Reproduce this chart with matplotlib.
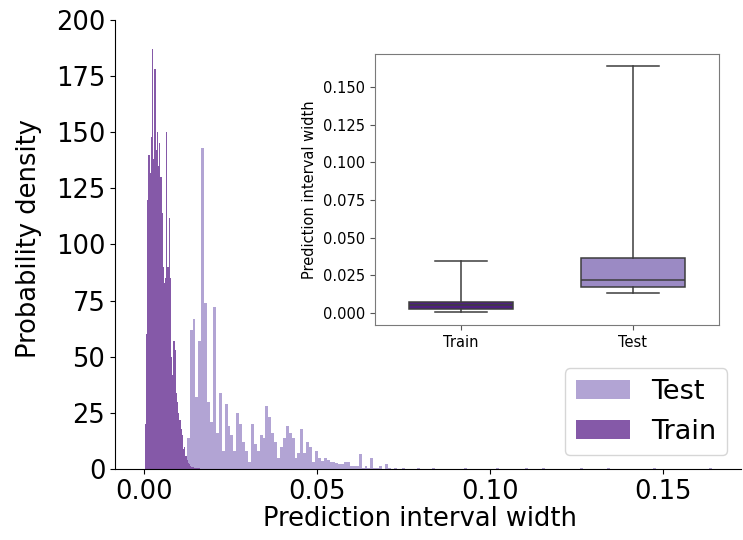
import numpy as np
import matplotlib
matplotlib.use("Agg")
import matplotlib.pyplot as plt

# Histogram densities (per bin) of prediction-interval widths
train_range = (0.0003, 0.0348)
train_density = [
    20, 60, 120, 140, 132, 148, 187, 138, 178, 142,
    150, 135, 145, 130, 114, 90, 83, 85, 150, 90,
    112, 85, 50, 42, 57, 53, 34, 30, 25, 22,
    18, 15, 9, 10, 6, 4, 2.5, 2, 1.5, 1,
    0.8, 0.6, 0.5, 0.4, 0.3, 0.3, 0.2, 0, 0.2, 0,
    0, 0.2, 0, 0, 0, 0, 0.2, 0, 0, 0,
    0, 0, 0, 0.2, 0, 0, 0, 0, 0, 0,
    0, 0, 0.2, 0, 0, 0, 0, 0, 0, 0,
    0, 0, 0, 0, 0, 0, 0, 0, 0, 0,
    0, 0, 0, 0, 0, 0, 0, 0, 0, 0.2,
]

test_range = (0.0124, 0.1640)
test_density = [
    14, 62, 67, 32, 57, 143, 74, 30, 21, 72,
    16, 34, 8, 29, 19, 15, 8, 25, 20, 12,
    8, 3, 20, 11, 8, 15, 14, 28, 23, 16,
    12, 5, 10, 14, 19, 16, 14, 5, 7, 18,
    7, 12, 10, 3, 8, 5, 3.5, 5, 4, 3,
    3, 2.5, 2, 2, 3, 3, 1.5, 1.5, 1.5, 6.7,
    0.6, 1.2, 0.6, 5, 0.6, 0.6, 1.2, 0, 2, 0.6,
    0, 0.6, 0, 0, 0.6, 0, 0, 0, 0, 0.6,
    0, 0, 0, 0, 0.6, 0, 0, 0, 0, 0,
    0, 0, 0, 0, 0, 0.6, 0, 0, 0, 0,
    0, 0, 0, 0, 0, 0, 0.6, 0, 0, 0,
    0, 0, 0, 0, 0, 0, 0.6, 0, 0, 0,
    0, 0, 0.6, 0, 0, 0, 0, 0, 0, 0,
    0, 0, 0, 0, 0, 0.6, 0, 0, 0, 0,
    0, 0, 0, 0, 0.6, 0, 0, 0, 0, 0,
    0, 0, 0, 0, 0, 0, 0, 0, 0, 0,
    0.6, 0, 0, 0, 0, 0, 0, 0, 0, 0,
    0, 0, 0, 0, 0, 0, 0, 0, 0, 0.6,
]

# Box-plot summaries (whiskers span min..max)
groups = ["Train", "Test"]
box_q1 = [0.0027, 0.0173]
box_median = [0.0049, 0.0215]
box_q3 = [0.0070, 0.0361]
box_low = [0.0002, 0.0128]
box_high = [0.0346, 0.1642]

test_color = "#b2a4d4"
train_color = "#8559a8"
box_colors = ["#4f2080", "#9b8ac4"]
edge_gray = "#3d3d3d"

fig = plt.figure(figsize=(7.43, 5.40), dpi=100)
ax = fig.add_axes([0.1548, 0.1315, 0.8425, 0.8315])

test_edges = np.linspace(test_range[0], test_range[1], len(test_density) + 1)
train_edges = np.linspace(train_range[0], train_range[1], len(train_density) + 1)
ax.hist(test_edges[:-1], bins=test_edges, weights=test_density,
        histtype="stepfilled", color=test_color, label="Test")
ax.hist(train_edges[:-1], bins=train_edges, weights=train_density,
        histtype="stepfilled", color=train_color, label="Train")

ax.set_xlim(-0.0083, 0.1725)
ax.set_ylim(0, 200)
ax.set_yticks(np.arange(0, 201, 25))
ax.set_xticks([0.0, 0.05, 0.10, 0.15])
ax.tick_params(labelsize=18.5)
ax.set_xlabel("Prediction interval width", fontsize=18.5)
ax.set_ylabel("Probability density", fontsize=18.5)
ax.xaxis.set_label_coords(0.487, -0.082)
ax.yaxis.set_label_coords(-0.117, 0.514)
for side in ("top", "right"):
    ax.spines[side].set_visible(False)
ax.legend(loc="lower right", fontsize=19.5)

# Inset box plot
iax = fig.add_axes([0.5047, 0.3981, 0.463, 0.5019])
stats = []
for i, name in enumerate(groups):
    stats.append(dict(label=name, q1=box_q1[i], med=box_median[i], q3=box_q3[i],
                      whislo=box_low[i], whishi=box_high[i], fliers=[]))
line_kw = dict(color=edge_gray, linewidth=1.1)
bp = iax.bxp(stats, positions=[0, 1], widths=0.6, patch_artist=True,
             showfliers=False,
             boxprops=dict(edgecolor=edge_gray, linewidth=1.1),
             medianprops=line_kw, whiskerprops=line_kw, capprops=line_kw)
for patch, c in zip(bp["boxes"], box_colors):
    patch.set_facecolor(c)
iax.set_xlim(-0.5, 1.5)
iax.set_ylim(-0.0082, 0.1722)
iax.set_yticks([0.0, 0.025, 0.05, 0.075, 0.10, 0.125, 0.15])
iax.set_yticklabels(["0.000", "0.025", "0.050", "0.075", "0.100", "0.125", "0.150"])
iax.tick_params(labelsize=10.5, color="#555555")
iax.set_ylabel("Prediction interval width", fontsize=10.5)
for sp in iax.spines.values():
    sp.set_color("#7a7a7a")

fig.savefig("out.png", dpi=100)
